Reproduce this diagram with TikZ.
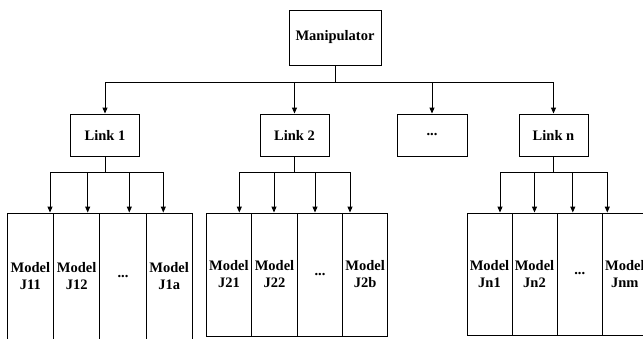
\documentclass[tikz,border=0pt]{standalone}
\usepackage{fontspec}
\setmainfont{Liberation Serif}
\usetikzlibrary{arrows.meta}

\begin{document}
\begin{tikzpicture}[x=1pt, y=-1pt,
    box/.style={draw, line width=0.9pt, inner sep=1pt, align=center, font=\fontsize{14.5}{17}\selectfont\bfseries},
    link/.style={box, minimum width=69pt, minimum height=42pt},
    model/.style={box, minimum width=46pt, minimum height=123pt},
    arr/.style={-{Triangle[length=6pt, width=5pt]}, line width=0.9pt}
]
\useasboundingbox (0,0) rectangle (643,338);

\node[box, minimum width=92pt, minimum height=55pt] (man) at (335,37.5) {Manipulator};
\node[link] (l1) at (105,135) {Link 1};
\node[link] (l2) at (294.5,135) {Link 2};
\node[link, minimum width=70pt] (ldots) at (432,135) {...};
\node[link] (ln) at (553.5,135) {Link n};

% models of link 1
\node[model, minimum width=46.3pt, minimum height=127pt] (m11) at (30.3,276.5) {Model\\J11};
\node[model, minimum width=46.3pt, minimum height=127pt] (m12) at (76.7,276.5) {Model\\J12};
\node[model, minimum width=46.3pt, minimum height=127pt] (m13) at (123,276.5) {...};
\node[model, minimum width=46.3pt, minimum height=127pt] (m14) at (169.2,276.5) {Model\\J1a};

% models of link 2
\node[model, minimum width=45.4pt] (m21) at (228.9,274.5) {Model\\J21};
\node[model, minimum width=45.4pt] (m22) at (274.5,274.5) {Model\\J22};
\node[model, minimum width=45.4pt] (m23) at (320,274.5) {...};
\node[model, minimum width=45.4pt] (m24) at (365.2,274.5) {Model\\J2b};

% models of link n
\node[model, minimum width=45pt, minimum height=122pt] (m31) at (489.5,274) {Model\\Jn1};
\node[model, minimum width=45pt, minimum height=122pt] (m32) at (534.5,274) {Model\\Jn2};
\node[model, minimum width=45pt, minimum height=122pt] (m33) at (579.8,274) {...};
\node[model, minimum width=45pt, minimum height=122pt] (m34) at (624.8,274) {Model\\Jnm};

\draw[arr] (man.south) -- ++(0,17) -| (l1.north);
\draw[arr] (man.south) -- ++(0,17) -| (l2.north);
\draw[arr] (man.south) -- ++(0,17) -| (ldots.north);
\draw[arr] (man.south) -- ++(0,17) -| (ln.north);

\draw[arr] (l1.south) -- ++(0,16) -| ([xshift=19.7pt]m11.north);
\draw[arr] (l1.south) -- ++(0,16) -| ([xshift=11pt]m12.north);
\draw[arr] (l1.south) -- ++(0,16) -| ([xshift=6.3pt]m13.north);
\draw[arr] (l1.south) -- ++(0,16) -| ([xshift=-5.9pt]m14.north);

\draw[arr] (l2.south) -- ++(0,16) -| ([xshift=10.4pt]m21.north);
\draw[arr] (l2.south) -- ++(0,16) -| ([xshift=-0.5pt]m22.north);
\draw[arr] (l2.south) -- ++(0,16) -| ([xshift=-5pt]m23.north);
\draw[arr] (l2.south) -- ++(0,16) -| ([xshift=-15.2pt]m24.north);

\draw[arr] (ln.south) -- ++(0,16) -| ([xshift=10.5pt]m31.north);
\draw[arr] (ln.south) -- ++(0,16) -| (m32.north);
\draw[arr] (ln.south) -- ++(0,16) -| ([xshift=-7pt]m33.north);
\draw[arr] (ln.south) -- ++(0,16) -| ([xshift=-17.5pt]m34.north);
\end{tikzpicture}
\end{document}
